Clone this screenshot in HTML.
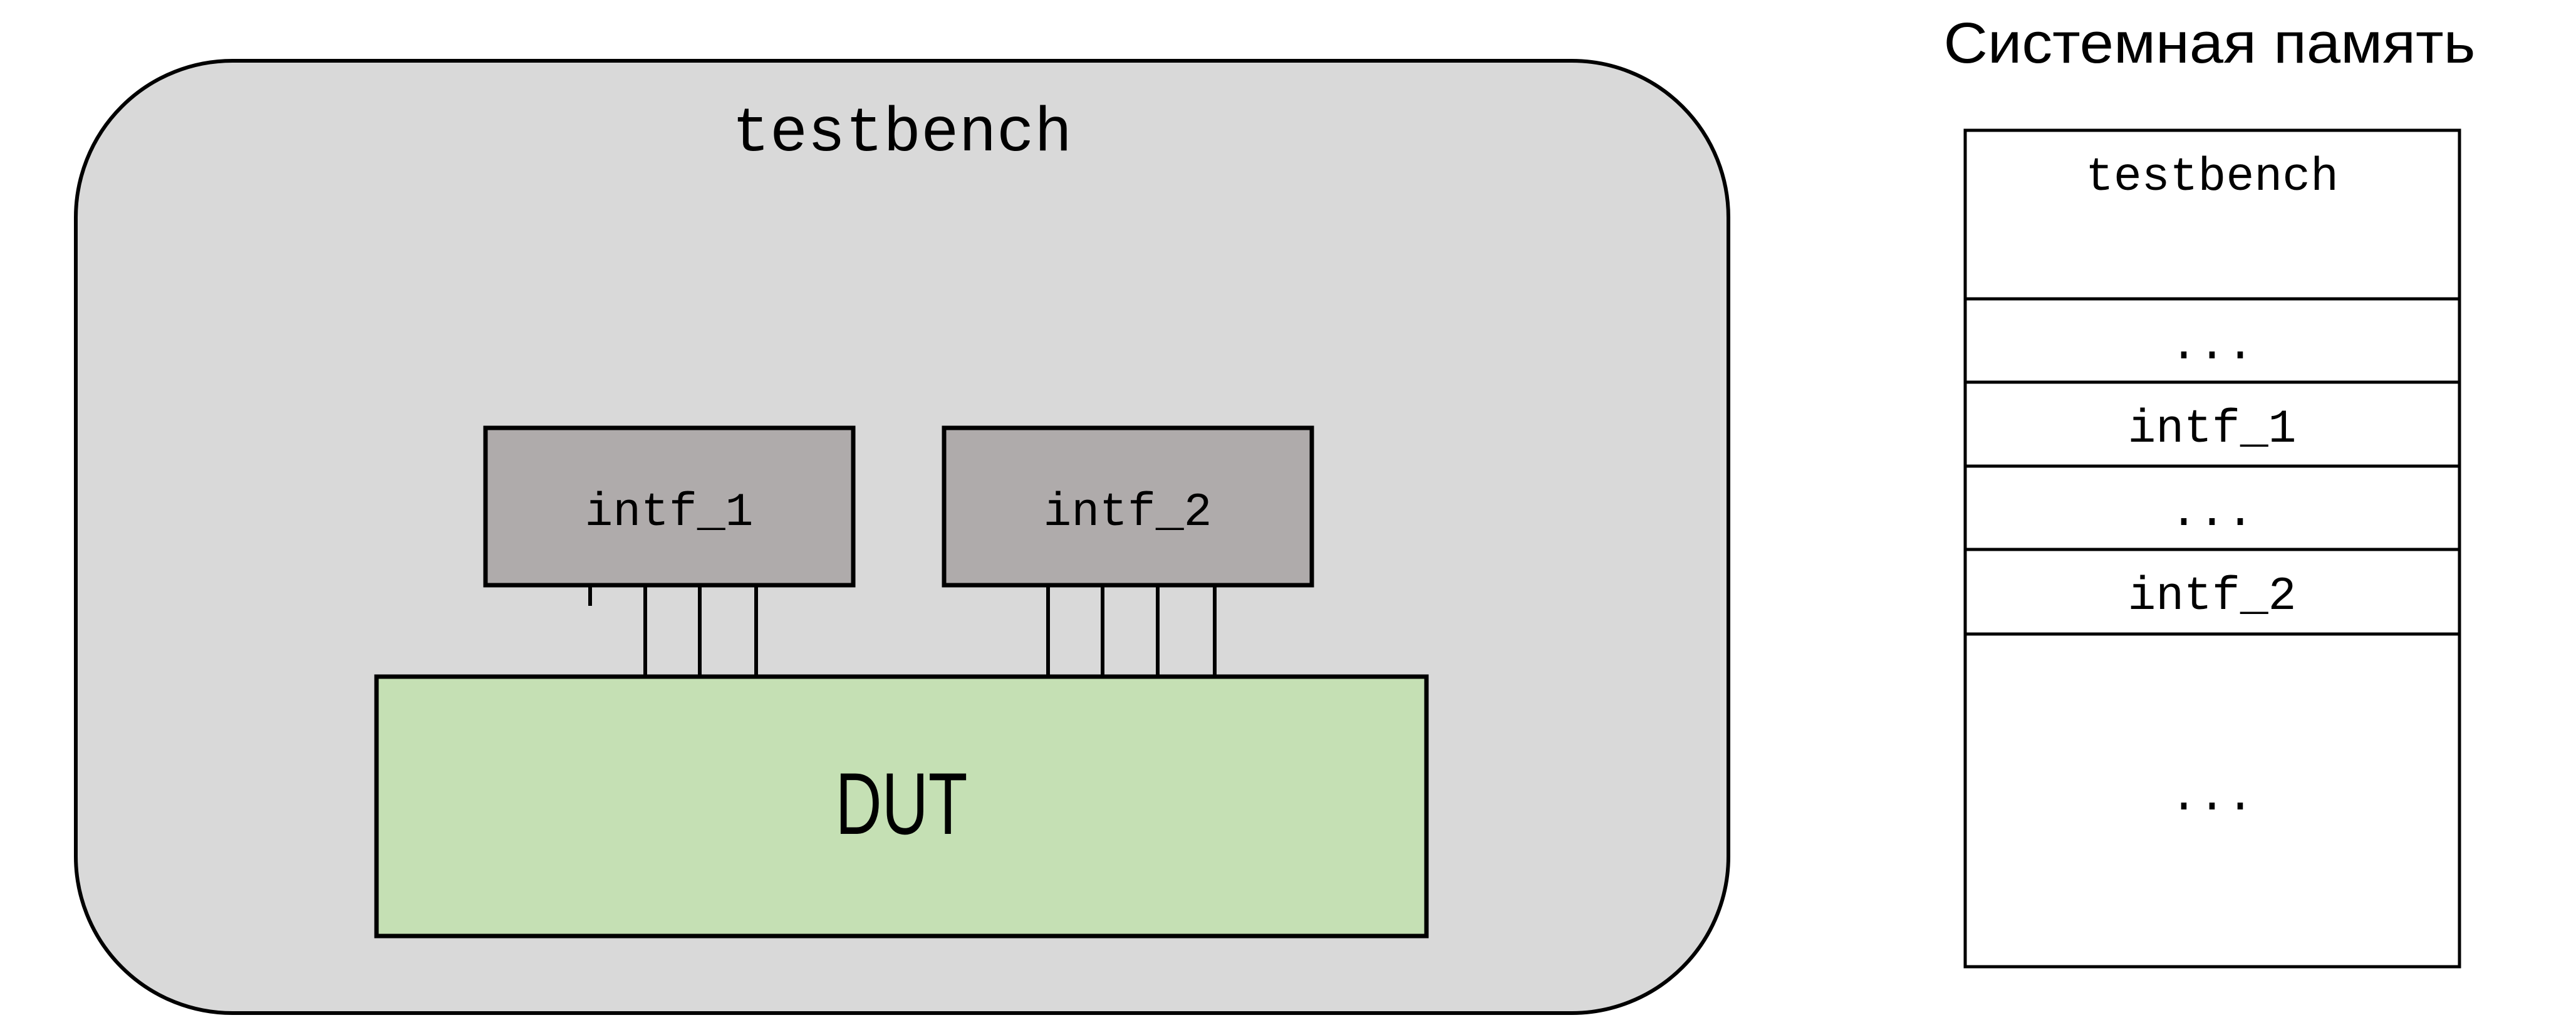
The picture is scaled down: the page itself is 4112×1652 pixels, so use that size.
<!DOCTYPE html>
<html><head><meta charset="utf-8"><style>html,body{margin:0;padding:0;background:#fff}svg{display:block}</style></head>
<body>
<svg width="4112" height="1652" viewBox="0 0 4112 1652" xmlns="http://www.w3.org/2000/svg">
<rect x="121" y="97" width="2638" height="1520" rx="250" ry="250" fill="#d9d9d9" stroke="#000" stroke-width="6"/>
<text x="1440" y="240" font-family="Liberation Mono, monospace" font-size="100" text-anchor="middle" textLength="543" lengthAdjust="spacingAndGlyphs">testbench</text>
<rect x="601" y="1080" width="1676" height="414" fill="#c5e0b4" stroke="#000" stroke-width="7"/>
<text x="1439" y="1331" font-family="Liberation Sans, sans-serif" font-size="140" text-anchor="middle" textLength="211" lengthAdjust="spacingAndGlyphs">DUT</text>
<g stroke="#000" stroke-width="6">
<line x1="942" y1="937" x2="942" y2="967"/>
<line x1="1030" y1="937" x2="1030" y2="1080"/>
<line x1="1117" y1="937" x2="1117" y2="1080"/>
<line x1="1207" y1="937" x2="1207" y2="1080"/>
<line x1="1673" y1="937" x2="1673" y2="1080"/>
<line x1="1760" y1="937" x2="1760" y2="1080"/>
<line x1="1848" y1="937" x2="1848" y2="1080"/>
<line x1="1939" y1="937" x2="1939" y2="1080"/>
</g>
<rect x="775" y="683" width="587" height="251" fill="#afabab" stroke="#000" stroke-width="7"/>
<rect x="1507" y="683" width="587" height="251" fill="#afabab" stroke="#000" stroke-width="7"/>
<text x="1068" y="838" font-family="Liberation Mono, monospace" font-size="75" text-anchor="middle" textLength="269" lengthAdjust="spacingAndGlyphs">intf_1</text>
<text x="1800" y="838" font-family="Liberation Mono, monospace" font-size="75" text-anchor="middle" textLength="269" lengthAdjust="spacingAndGlyphs">intf_2</text>
<text x="3527" y="100" font-family="Liberation Sans, DejaVu Sans, sans-serif" font-size="92" text-anchor="middle" textLength="849" lengthAdjust="spacingAndGlyphs">Системная память</text>
<rect x="3137" y="208" width="789" height="1335" fill="#fff" stroke="#000" stroke-width="5"/>
<g stroke="#000" stroke-width="5">
<line x1="3137" y1="477" x2="3926" y2="477"/>
<line x1="3137" y1="610" x2="3926" y2="610"/>
<line x1="3137" y1="744" x2="3926" y2="744"/>
<line x1="3137" y1="877" x2="3926" y2="877"/>
<line x1="3137" y1="1012" x2="3926" y2="1012"/>
</g>
<g font-family="Liberation Mono, monospace" font-size="75" text-anchor="middle">
<text x="3531" y="303" textLength="404" lengthAdjust="spacingAndGlyphs">testbench</text>
<text x="3531" y="572">...</text>
<text x="3531" y="705" textLength="269" lengthAdjust="spacingAndGlyphs">intf_1</text>
<text x="3531" y="838">...</text>
<text x="3531" y="972" textLength="269" lengthAdjust="spacingAndGlyphs">intf_2</text>
<text x="3531" y="1292">...</text>
</g>
</svg>
</body></html>
